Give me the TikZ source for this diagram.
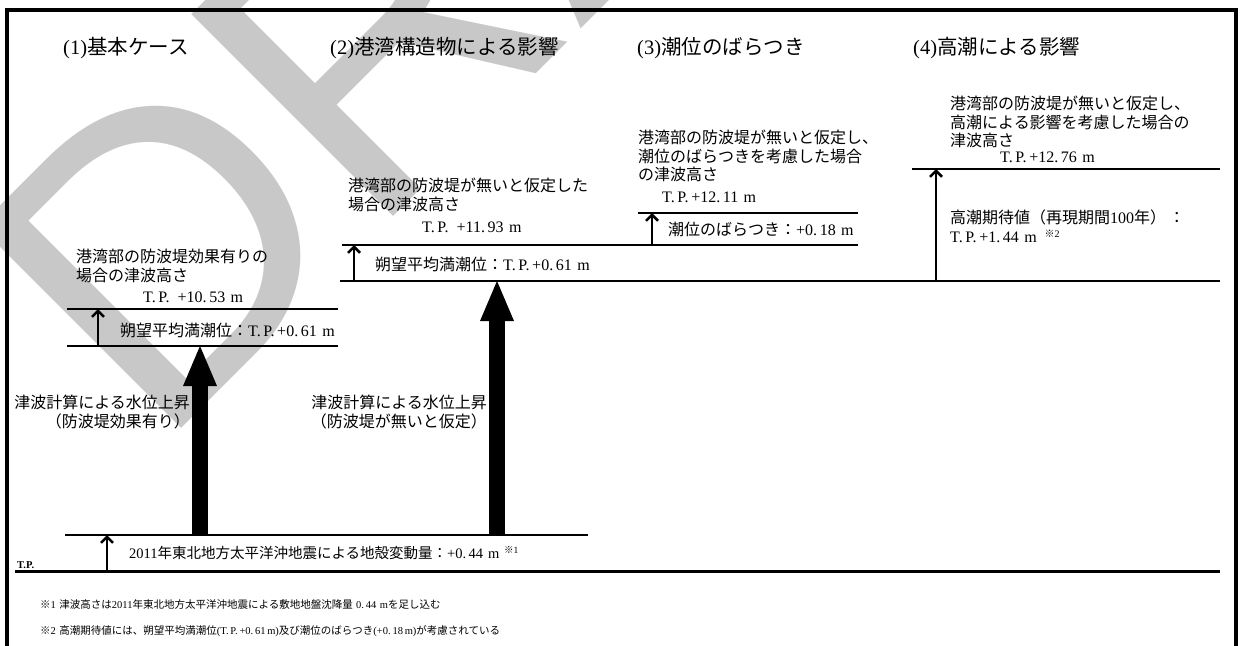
\documentclass[tikz,border=0pt]{standalone}
\usepackage{fontspec}
\setmainfont{Liberation Serif}
\newfontfamily\jp{Noto Sans CJK JP}
\newfontfamily\wmfont{Liberation Sans}
\usetikzlibrary{arrows.meta}
\definecolor{wmgray}{RGB}{200,200,200}
\begin{document}
\begin{tikzpicture}[x=1pt,y=-1pt,
  lvl/.style={line width=2.5pt},
  sarrow/.style={line width=2.5pt,-{Straight Barb[length=6pt,width=12pt]}},
  barrow/.style={line width=16pt,-{Triangle[length=40pt,width=34pt,line width=0pt]}},
  ttl/.style={anchor=west,inner sep=0pt,font=\fontsize{20.5}{24}\selectfont},
  txt/.style={inner sep=0pt,font=\fontsize{16}{18.5}\selectfont,align=left},
  note/.style={anchor=west,inner sep=0pt,font=\fontsize{10.5}{12}\selectfont}]
\useasboundingbox (0,0) rectangle (1241,645);
\fill[white] (0,0) rectangle (1241,645);
% watermark
\node[font=\wmfont\fontsize{415}{415}\selectfont,text=wmgray,rotate=45,anchor=base west,inner sep=0pt] (wm) at (157,453) {DRAFT};
% frame
\draw[line width=4pt] (7,700) -- (7,10) -- (1236,10) -- (1236,700);
% titles
\node[ttl] (t1) at (63,48) {(1){\jp 基本ケース}};
\node[ttl] (t2) at (330,48) {(2){\jp 港湾構造物による影響}};
\node[ttl] (t3) at (637,48) {(3){\jp 潮位のばらつき}};
\node[ttl] (t4) at (913,48) {(4){\jp 高潮による影響}};
% column 1
\node[txt,anchor=north west] (d1) at (76,249) {\jp 港湾部の防波堤効果有りの\\\jp 場合の津波高さ};
\node[txt,anchor=west] (v1) at (143,297) {T.\,P.\,\,\,+10.\,53\,\,m};
\coordinate (l1tL) at (67,309); \coordinate (l1tR) at (338,309);
\coordinate (l1bL) at (67,346); \coordinate (l1bR) at (338,346);
\draw[lvl] (l1tL) -- (l1tR);
\draw[lvl] (l1bL) -- (l1bR);
\coordinate (a1s) at (98,346); \coordinate (a1e) at (98,309);
\draw[sarrow] (a1s) -- (a1e);
\node[txt,anchor=west] (m1) at (120,330) {{\jp 朔望平均満潮位：}T.\,P.\,+0.\,61\,\,m};
\coordinate (b1s) at (200,535); \coordinate (b1e) at (200,346);
\draw[barrow] (b1s) -- (b1e);
\node[txt,anchor=north east,align=right] (r1) at (190,395) {\jp 津波計算による水位上昇\\\jp （防波堤効果有り）};
% column 2
\node[txt,anchor=north west] (d2) at (348,178) {\jp 港湾部の防波堤が無いと仮定した\\\jp 場合の津波高さ};
\node[txt,anchor=west] (v2) at (422,227) {T.\,P.\,\,\,+11.\,93\,\,m};
\coordinate (l2tL) at (342,245); \coordinate (l2tR) at (858,245);
\coordinate (l2bL) at (340,281); \coordinate (l2bR) at (1220,281);
\draw[lvl] (l2tL) -- (l2tR);
\draw[lvl] (l2bL) -- (l2bR);
\coordinate (a2s) at (354,281); \coordinate (a2e) at (354,245);
\draw[sarrow] (a2s) -- (a2e);
\node[txt,anchor=west] (m2) at (375,264) {{\jp 朔望平均満潮位：}T.\,P.\,+0.\,61\,\,m};
\coordinate (b2s) at (497,535); \coordinate (b2e) at (497,281);
\draw[barrow] (b2s) -- (b2e);
\node[txt,anchor=north east,align=right] (r2) at (487,395) {\jp 津波計算による水位上昇\\\jp （防波堤が無いと仮定）};
% column 3
\node[txt,anchor=north west] (d3) at (638,130) {\jp 港湾部の防波堤が無いと仮定し、\\\jp 潮位のばらつきを考慮した場合\\\jp の津波高さ};
\node[txt,anchor=west] (v3) at (662,197) {T.\,P.\,+12.\,11\,\,m};
\coordinate (l3tL) at (638,213); \coordinate (l3tR) at (858,213);
\draw[lvl] (l3tL) -- (l3tR);
\coordinate (a3s) at (652,245); \coordinate (a3e) at (652,213);
\draw[sarrow] (a3s) -- (a3e);
\node[txt,anchor=west] (m3) at (668,229) {{\jp 潮位のばらつき：}+0.\,18\,\,m};
% column 4
\node[txt,anchor=north west] (d4) at (950,96) {\jp 港湾部の防波堤が無いと仮定し、\\\jp 高潮による影響を考慮した場合の\\\jp 津波高さ};
\node[txt,anchor=west] (v4) at (1000,157) {T.\,P.\,+12.\,76\,\,m};
\coordinate (l4tL) at (912,169); \coordinate (l4tR) at (1220,169);
\draw[lvl] (l4tL) -- (l4tR);
\coordinate (a4s) at (936,281); \coordinate (a4e) at (936,169);
\draw[sarrow] (a4s) -- (a4e);
\node[txt,anchor=north west] (m4) at (950,210) {{\jp 高潮期待値（再現期間}100{\jp 年）\,：}\\T.\,P.\,+1.\,44\,\,m\,\,\,{\fontsize{10}{10}\selectfont\raisebox{5pt}{{\jp ※}2}}};
% bottom
\coordinate (lbL) at (65,535); \coordinate (lbR) at (588,535);
\draw[lvl] (lbL) -- (lbR);
\coordinate (tpL) at (15,571); \coordinate (tpR) at (1220,571);
\draw[line width=3pt] (tpL) -- (tpR);
\coordinate (abs) at (107,571); \coordinate (abe) at (107,535);
\draw[sarrow] (abs) -- (abe);
\node[txt,anchor=west,font=\fontsize{14.5}{17}\selectfont] (mb) at (129,553) {2011{\jp 年東北地方太平洋沖地震による地殻変動量：}+0.\,44\,\,m\,\,{\fontsize{9.5}{10}\selectfont\raisebox{5pt}{{\jp ※}1}}};
\node[anchor=west,inner sep=0pt,font=\bfseries\fontsize{10.5}{10}\selectfont] (tp) at (17,565) {T.P.};
% notes
\node[note] (f1) at (40,604) {{\jp ※}1\,\,{\jp 津波高さは}2011{\jp 年東北地方太平洋沖地震による敷地地盤沈降量}\,\,0.\,44\,\,m{\jp を足し込む}};
\node[note] (f2) at (40,631) {{\jp ※}2\,\,{\jp 高潮期待値には、朔望平均満潮位}(T.\,P.\,+0.\,61\,m){\jp 及び潮位のばらつき}(+0.\,18\,m){\jp が考慮されている}};
\end{tikzpicture}
\end{document}
